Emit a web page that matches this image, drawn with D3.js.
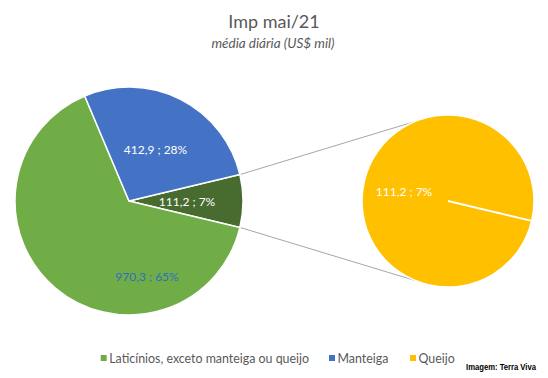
<!DOCTYPE html>
<html><head><meta charset="utf-8">
<script src="https://cdn.jsdelivr.net/npm/d3@7"></script>
<style>body{margin:0;background:#fff}svg{display:block}</style>
</head><body>
<svg id="c" width="548" height="378"></svg>
<script>
const title = "Imp mai/21";
const subtitle = "média diária (US$ mil)";
const categories = ["Laticínios, exceto manteiga ou queijo", "Manteiga", "Queijo"];
const values = [970.3, 412.9, 111.2];
const percents = [65, 28, 7];
const colors = ["#70ad47", "#4472c4", "#ffc000"];
const otherColor = "#486b30";
const credit = "Imagem: Terra Viva";

const fmt = v => d3.format(".1f")(v).replace(".", ",");
const labelText = i => fmt(values[i]) + " ; " + percents[i] + "%";
const font = "Lato, 'Open Sans', sans-serif";

const svg = d3.select("#c");
const total = d3.sum(values);
const otherAng = values[2] / total * 2 * Math.PI;
const start = Math.PI / 2 - otherAng / 2;

const mainData = [
  {key: "other", value: values[2], color: otherColor, idx: 2},
  {key: "lat", value: values[0], color: colors[0], idx: 0},
  {key: "man", value: values[1], color: colors[1], idx: 1}
];
const cx1 = 129, cy1 = 201, r1 = 114;
const cx2 = 448, cy2 = 201, r2 = 86;

const pie = d3.pie().sort(null).value(d => d.value).startAngle(start).endAngle(start + 2 * Math.PI);
const arc1 = d3.arc().innerRadius(0).outerRadius(r1);
const arcs = pie(mainData);

// connector lines
const gL = svg.append("g");
const p = a => [Math.sin(a), -Math.cos(a)];
const topA = start, botA = start + otherAng;
[[topA, (-22) * Math.PI / 180], [botA, (180 + 22) * Math.PI / 180]].forEach(([a, b]) => {
  const [x1, y1] = p(a);
  const [x2, y2] = p(b);
  gL.append("line")
    .attr("x1", cx1 + x1 * r1).attr("y1", cy1 + y1 * r1)
    .attr("x2", cx2 + x2 * r2).attr("y2", cy2 + y2 * r2)
    .attr("stroke", "#a6a6a6").attr("stroke-width", 1);
});

const g1 = svg.append("g").attr("transform", `translate(${cx1},${cy1})`);
g1.selectAll("path").data(arcs).join("path")
  .attr("d", arc1).attr("fill", d => d.data.color)
  .attr("stroke", "#fff").attr("stroke-width", 1.5).attr("stroke-linejoin", "round");

// secondary pie
const s2 = start + otherAng;
const pie2 = d3.pie().sort(null).value(d => d).startAngle(s2).endAngle(s2 + 2 * Math.PI);
const arc2 = d3.arc().innerRadius(0).outerRadius(r2);
const g2 = svg.append("g").attr("transform", `translate(${cx2},${cy2})`);
const sec = pie2([values[2]]);
g2.selectAll("path").data(sec).join("path")
  .attr("d", arc2).attr("fill", colors[2])
  .attr("stroke", "#fff").attr("stroke-width", 1.5);
g2.selectAll("line.edge").data(sec).join("line").attr("class", "edge")
  .attr("x1", 0).attr("y1", 0)
  .attr("x2", d => Math.sin(d.startAngle) * r2).attr("y2", d => -Math.cos(d.startAngle) * r2)
  .attr("stroke", "#fff").attr("stroke-width", 1.8);

// labels
const lab = (x, y, t, c) => svg.append("text").attr("x", x).attr("y", y)
  .attr("text-anchor", "middle").attr("dominant-baseline", "central")
  .attr("font-family", font).attr("font-size", 12).attr("fill", c).text(t);
lab(155.5, 149, labelText(1), "#ffffff");
lab(187, 201.5, labelText(2), "#ffffff");
lab(147, 276.5, labelText(0), "#2e6fbf");
lab(404, 191.5, labelText(2), "#ffffff");

// titles
svg.append("text").attr("x", 274).attr("y", 21).attr("text-anchor", "middle")
  .attr("dominant-baseline", "central").attr("font-family", font)
  .attr("font-size", 18).attr("fill", "#595959").text(title);
svg.append("text").attr("x", 273).attr("y", 43).attr("text-anchor", "middle")
  .attr("dominant-baseline", "central").attr("font-family", font).attr("font-style", "italic")
  .attr("font-size", 13.5).attr("fill", "#595959").text(subtitle);

// legend
const legX = [100.7, 329, 410];
const lg = svg.append("g");
categories.forEach((c, i) => {
  lg.append("rect").attr("x", legX[i]).attr("y", 355).attr("width", 6).attr("height", 6).attr("fill", colors[i]);
  lg.append("text").attr("x", legX[i] + 8.5).attr("y", 358).attr("dominant-baseline", "central")
    .attr("font-family", font).attr("font-size", 12.4).attr("fill", "#595959").text(c);
});

svg.append("text").attr("x", 466).attr("y", 367).attr("dominant-baseline", "central")
  .attr("font-family", "'Liberation Sans', Arial, sans-serif").attr("font-weight", "bold")
  .attr("font-size", 9).attr("fill", "#000").attr("textLength", 70).attr("lengthAdjust", "spacingAndGlyphs").text(credit);
</script>
</body></html>
